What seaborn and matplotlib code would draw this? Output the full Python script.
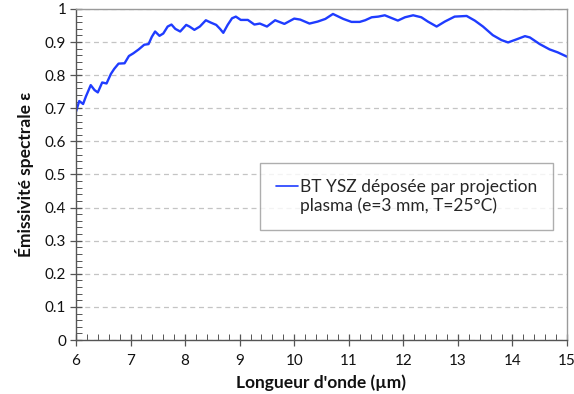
import numpy as np
import pandas as pd
import matplotlib
matplotlib.use("Agg")
import matplotlib.pyplot as plt
from matplotlib.ticker import MultipleLocator, FormatStrFormatter
import seaborn as sns

# Spectral emissivity of plasma-sprayed YSZ thermal barrier coating
wavelength_um = [6.00, 6.06, 6.13, 6.18, 6.27, 6.34, 6.40, 6.48, 6.56, 6.64,
                 6.70, 6.78, 6.89, 6.97, 7.05, 7.15, 7.25, 7.33, 7.39, 7.45,
                 7.53, 7.60, 7.68, 7.75, 7.82, 7.91, 8.02, 8.08, 8.17, 8.27,
                 8.38, 8.47, 8.57, 8.64, 8.70, 8.78, 8.86, 8.93, 9.02, 9.15,
                 9.27, 9.37, 9.50, 9.65, 9.82, 10.00, 10.11, 10.28, 10.43, 10.57,
                 10.71, 10.90, 11.05, 11.20, 11.30, 11.42, 11.54, 11.66, 11.78, 11.90,
                 12.03, 12.18, 12.33, 12.45, 12.61, 12.76, 12.94, 13.16, 13.31, 13.46,
                 13.64, 13.80, 13.92, 14.07, 14.23, 14.32, 14.50, 14.68, 14.83, 15.00]
emissivity = [0.690, 0.722, 0.713, 0.735, 0.770, 0.755, 0.748, 0.778, 0.775, 0.804,
              0.819, 0.835, 0.836, 0.858, 0.866, 0.878, 0.892, 0.894, 0.916, 0.932,
              0.919, 0.926, 0.947, 0.953, 0.940, 0.932, 0.952, 0.947, 0.937, 0.947,
              0.966, 0.959, 0.952, 0.940, 0.928, 0.952, 0.972, 0.977, 0.967, 0.967,
              0.953, 0.956, 0.947, 0.966, 0.955, 0.971, 0.968, 0.956, 0.962, 0.970,
              0.985, 0.970, 0.961, 0.961, 0.966, 0.975, 0.977, 0.981, 0.973, 0.965,
              0.975, 0.981, 0.975, 0.962, 0.947, 0.962, 0.977, 0.979, 0.965, 0.947,
              0.921, 0.906, 0.899, 0.908, 0.918, 0.914, 0.894, 0.878, 0.869, 0.856]

series_label = "BT YSZ déposée par projection\nplasma (e=3 mm, T=25°C)"
x_label = "Longueur d'onde (µm)"
y_label = "Émissivité spectrale ε"

df = pd.DataFrame({"wl": wavelength_um, "eps": emissivity})

sns.set_theme(style="white")
plt.rcParams["font.family"] = ["Lato", "DejaVu Sans"]

fig = plt.figure(figsize=(5.74, 3.94), dpi=100)
ax = fig.add_axes([76 / 574, 1 - 340 / 394, (567 - 76) / 574, (340 - 9) / 394])

sns.lineplot(data=df, x="wl", y="eps", ax=ax, color="#1f3cff", linewidth=1.7,
             label=series_label, solid_joinstyle="round", solid_capstyle="round")

ax.set_xlim(6, 15)
ax.set_ylim(0, 1)
ax.xaxis.set_major_locator(MultipleLocator(1))
ax.xaxis.set_minor_locator(MultipleLocator(0.2))
ax.yaxis.set_major_locator(MultipleLocator(0.1))
ax.yaxis.set_minor_locator(MultipleLocator(0.02))
ax.yaxis.set_major_formatter(FormatStrFormatter("%g"))

ax.yaxis.grid(True, which="major", color="#c4c4c4", linestyle=(0, (4, 3)), linewidth=0.9)
ax.xaxis.grid(False)
ax.set_axisbelow(True)

for side in ("left", "bottom"):
    ax.spines[side].set_color("#555555")
    ax.spines[side].set_linewidth(1.0)
for side in ("top", "right"):
    ax.spines[side].set_color("#9a9a9a")
    ax.spines[side].set_linewidth(1.0)

ax.tick_params(which="major", direction="inout", length=8, width=0.9, color="#555555",
               labelsize=11, labelcolor="#111111", pad=3,
               left=True, bottom=True)
ax.tick_params(which="minor", direction="in", length=4, width=0.7, color="#555555",
               left=True, bottom=True)
ax.tick_params(axis="x", pad=6)

ax.set_xlabel(x_label, fontsize=12.5, fontweight="bold", color="#111111", labelpad=5)
ax.set_ylabel(y_label, fontsize=12.5, fontweight="bold", color="#111111", labelpad=8)

legend_fs = 12.5
leg = ax.legend(loc="upper left", bbox_to_anchor=((260 - 76) / 491, (340 - 163) / 331),
                frameon=True, fancybox=False, fontsize=legend_fs, handlelength=1.3,
                handletextpad=0.1, borderpad=0.9, borderaxespad=0)
leg.get_frame().set_edgecolor("#9a9a9a")
leg.get_frame().set_linewidth(1.0)
# put the legend key level with the first line of the two-line label
for line in leg.get_lines():
    line.set_linewidth(1.2)
    line.set_ydata(np.asarray(line.get_ydata()) + 0.6 * legend_fs)

fig.savefig("out.png", dpi=100)
